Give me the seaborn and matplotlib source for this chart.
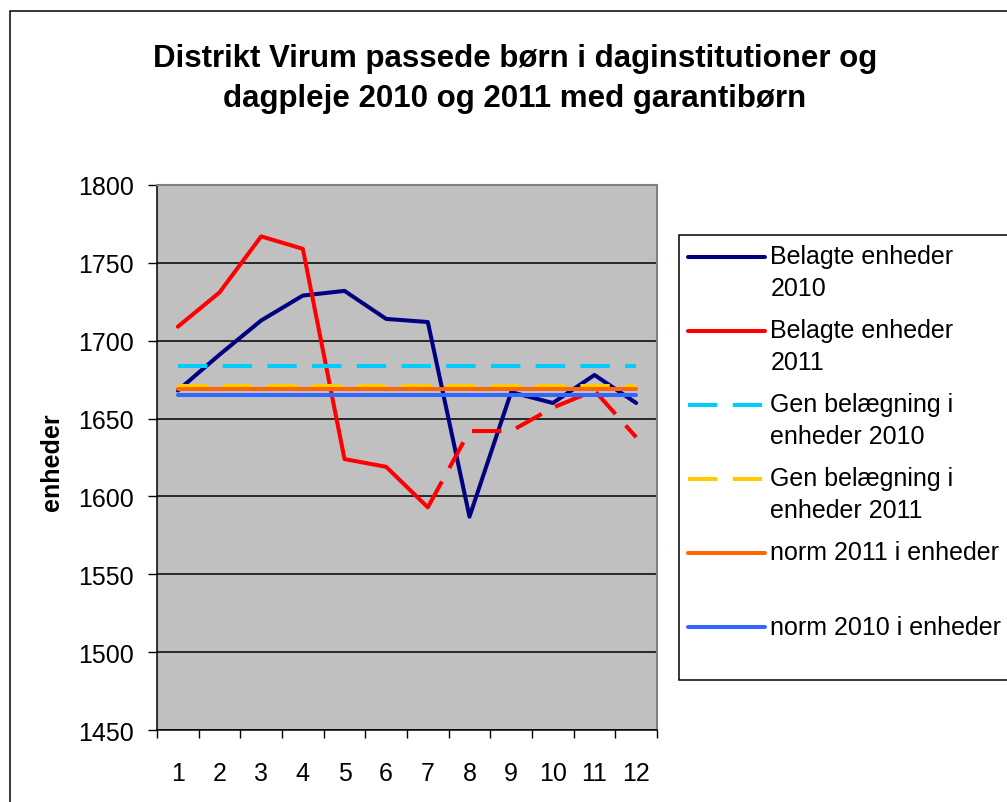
import numpy as np
import pandas as pd
import seaborn as sns
import matplotlib
matplotlib.use("Agg")
import matplotlib.pyplot as plt
from matplotlib.patches import Rectangle
from matplotlib.legend_handler import HandlerLine2D

# data (units per month)
months = [1, 2, 3, 4, 5, 6, 7, 8, 9, 10, 11, 12]
belagte_2010 = [1668, 1691, 1713, 1729, 1732, 1714, 1712, 1587, 1667, 1660, 1678, 1660]
belagte_2011 = [1709, 1731, 1767, 1759, 1624, 1619, 1593, 1642, 1642, 1657, 1668, 1638]
gen_2010 = [1684, 1684, 1684, 1684, 1684, 1684, 1684, 1684, 1684, 1684, 1684, 1684]
gen_2011 = [1671, 1671, 1671, 1671, 1671, 1671, 1671, 1671, 1671, 1671, 1671, 1671]
norm_2011 = [1669, 1669, 1669, 1669, 1669, 1669, 1669, 1669, 1669, 1669, 1669, 1669]
norm_2010 = [1665, 1665, 1665, 1665, 1665, 1665, 1665, 1665, 1665, 1665, 1665, 1665]
red_solid_upto = 7  # 2011 line is solid up to month 7, dashed afterwards

labels = ["Belagte enheder\n2010", "Belagte enheder\n2011", "Gen belægning i\nenheder 2010",
          "Gen belægning i\nenheder 2011", "norm 2011 i enheder\n", "norm 2010 i enheder\n"]
yticks = [1450, 1500, 1550, 1600, 1650, 1700, 1750, 1800]

df = pd.DataFrame({"month": months, "b2010": belagte_2010, "b2011": belagte_2011,
                   "g2010": gen_2010, "g2011": gen_2011, "n2011": norm_2011, "n2010": norm_2010})

sns.set_style("white")
plt.rcParams["font.family"] = ["Liberation Sans", "DejaVu Sans"]
plt.rcParams["text.color"] = "black"
plt.rcParams["xtick.color"] = "black"
plt.rcParams["ytick.color"] = "black"
plt.rcParams["axes.labelcolor"] = "black"

W, H = 1007, 803
fig = plt.figure(figsize=(W / 100, H / 100), dpi=100)
ax = fig.add_axes([157 / W, 1 - 731 / H, 500 / W, (731 - 186) / H])
ax.set_facecolor("#C0C0C0")

dash = (0, (7.3, 3.8))
lw = 2.9
sns.lineplot(data=df, x="month", y="b2010", color="#000080", lw=lw, ax=ax, label=labels[0])
sns.lineplot(data=df[df.month <= red_solid_upto], x="month", y="b2011", color="#FF0000", lw=lw,
             ax=ax, label=labels[1])
sns.lineplot(data=df[df.month >= red_solid_upto], x="month", y="b2011", color="#FF0000", lw=lw,
             ax=ax, linestyle=dash, label="_nolegend_")
sns.lineplot(data=df, x="month", y="g2010", color="#00CCFF", lw=lw, ax=ax, linestyle=dash, label=labels[2])
sns.lineplot(data=df, x="month", y="g2011", color="#FFCC00", lw=lw, ax=ax, linestyle=dash, label=labels[3])
sns.lineplot(data=df, x="month", y="n2011", color="#FF6600", lw=lw, ax=ax, label=labels[4])
sns.lineplot(data=df, x="month", y="n2010", color="#3366FF", lw=lw, ax=ax, label=labels[5])

ax.set_xlim(0.5, 12.5)
ax.set_ylim(1450, 1800)
ax.set_yticks(yticks)
ax.yaxis.grid(True, color="black", lw=1.1)
ax.set_axisbelow(True)
ax.set_xticks(np.arange(0.5, 13, 1))
ax.set_xticklabels([])
ax.set_xticks(months, minor=True)
ax.set_xticklabels([str(m) for m in months], minor=True)
ax.tick_params(axis="x", which="major", direction="out", length=5.5, width=1, color="black", bottom=True)
ax.tick_params(axis="x", which="minor", length=0, pad=22, labelsize=18)
ax.tick_params(axis="y", direction="out", length=6.5, width=1, color="black", pad=10, labelsize=18, left=True)
ax.set_xlabel("")
ax.set_ylabel("")
for s in ["left", "bottom"]:
    ax.spines[s].set_color("black")
    ax.spines[s].set_linewidth(1.1)
for s in ["top", "right"]:
    ax.spines[s].set_color("#808080")
    ax.spines[s].set_linewidth(1.5)


class FirstLineHandler(HandlerLine2D):
    # Excel puts the legend key level with the first text line
    def create_artists(self, legend, orig_handle, xdescent, ydescent, width, height, fontsize, trans):
        arts = super().create_artists(legend, orig_handle, xdescent, ydescent, width, height, fontsize, trans)
        for a in arts:
            a.set_ydata(np.asarray(a.get_ydata()) + 0.64 * fontsize)
        return arts


handles, labs = ax.get_legend_handles_labels()
ax.get_legend().remove()
leg = fig.legend(handles, labs, loc="upper left", bbox_to_anchor=(679 / W, 1 - 236 / H),
                 fontsize=18, frameon=True, fancybox=False, edgecolor="black", framealpha=1,
                 borderpad=0.35, handlelength=3.1, handletextpad=0.2, labelspacing=0.72,
                 borderaxespad=0, handler_map={h: FirstLineHandler() for h in handles})
leg.get_frame().set_linewidth(1.1)
for t in leg.get_texts():
    t.set_linespacing(1.43)

fig.text(515 / W, 1 - 44 / H, "Distrikt Virum passede børn i daginstitutioner og\ndagpleje 2010 og 2011 med garantibørn",
         ha="center", va="top", fontsize=22.5, fontweight="bold", linespacing=1.42)
fig.text(52 / W, 1 - 462 / H, "enheder", rotation=90, ha="center", va="center", fontsize=18, fontweight="bold")

fig.add_artist(Rectangle((10 / W, -0.2), 1.5, 1.2 - 12 / H, transform=fig.transFigure,
                         fill=False, edgecolor="black", lw=1.1))

fig.savefig("out.png", dpi=100)
